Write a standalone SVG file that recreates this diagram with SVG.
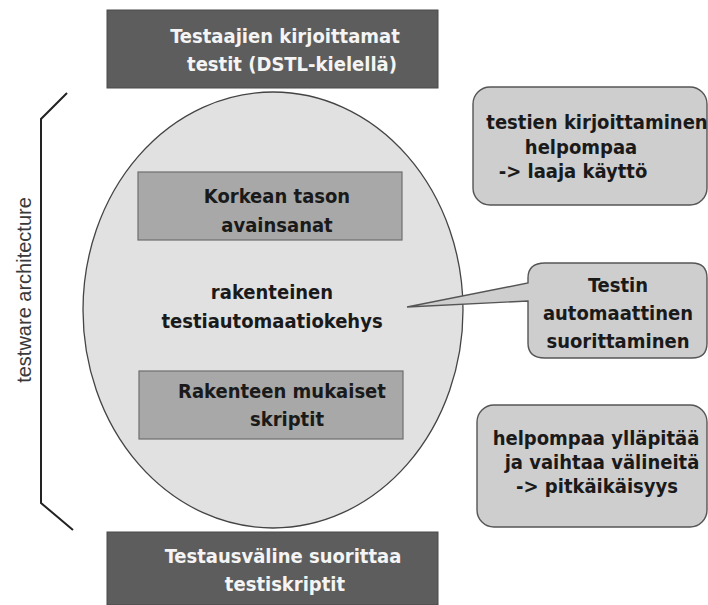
<svg xmlns="http://www.w3.org/2000/svg" width="708" height="605" viewBox="0 0 708 605">
<style>
text{font-family:"DejaVu Sans","Liberation Sans",sans-serif;font-stretch:condensed;font-weight:bold;font-size:20px;text-anchor:middle}
.dark{fill:#5d5d5d;stroke:#4a4a4a;stroke-width:1}
.wt{fill:#f4f4f4}
.inner{fill:#a8a8a8;stroke:#6e6e6e;stroke-width:1.2}
.note{fill:#cecece;stroke:#555;stroke-width:1.4}
.bt{fill:#1a1a1a}
</style>
<rect width="708" height="605" fill="#fff"/>
<g id="top">
<rect class="dark" x="107" y="10" width="331" height="78"/>
<text class="wt" x="285" y="43">Testaajien kirjoittamat</text>
<text class="wt" x="292" y="71">testit (DSTL-kielellä)</text>
</g>
<g id="bracket">
<polyline points="67,93 41,119 41,503 73,530" fill="none" stroke="#222" stroke-width="2"/>
<text x="31" y="290" transform="rotate(-90 31 290)" style="font-family:'Liberation Sans',sans-serif;font-stretch:normal;font-weight:normal;font-size:20px;fill:#3a3a3a">testware architecture</text>
</g>
<g id="framework">
<ellipse cx="273" cy="310" rx="190" ry="218" fill="#e1e1e1" stroke="#444" stroke-width="1.3"/>
<text class="bt" x="272" y="299">rakenteinen</text>
<text class="bt" x="272" y="328">testiautomaatiokehys</text>
</g>
<g id="keywords">
<rect class="inner" x="138" y="172" width="264" height="68"/>
<text class="bt" x="277" y="203">Korkean tason</text>
<text class="bt" x="277" y="232">avainsanat</text>
</g>
<g id="scripts">
<rect class="inner" x="139" y="371" width="264" height="68"/>
<text class="bt" x="282" y="398">Rakenteen mukaiset</text>
<text class="bt" x="287" y="426">skriptit</text>
</g>
<g id="bottom">
<rect class="dark" x="107" y="532" width="331" height="73"/>
<text class="wt" x="283" y="563">Testausväline suorittaa</text>
<text class="wt" x="285" y="591">testiskriptit</text>
</g>
<g id="note1">
<rect class="note" x="473" y="87" width="234" height="118" rx="17"/>
<text class="bt" x="597" y="129">testien kirjoittaminen</text>
<text class="bt" x="581" y="154">helpompaa</text>
<text class="bt" x="573" y="178">-&gt; laaja käyttö</text>
</g>
<g id="note2">
<path class="note" d="M545,263 H692 Q707,263 707,278 V343 Q707,358 692,358 H545 Q528,358 528,343 V301 L407,307 L528,283 V278 Q528,263 545,263 Z"/>
<text class="bt" x="618" y="292">Testin</text>
<text class="bt" x="618" y="320">automaattinen</text>
<text class="bt" x="618" y="348">suorittaminen</text>
</g>
<g id="note3">
<rect class="note" x="477" y="405" width="230" height="122" rx="17"/>
<text class="bt" x="596" y="445">helpompaa ylläpitää</text>
<text class="bt" x="602" y="469">ja vaihtaa välineitä</text>
<text class="bt" x="597" y="493">-&gt; pitkäikäisyys</text>
</g>
</svg>
